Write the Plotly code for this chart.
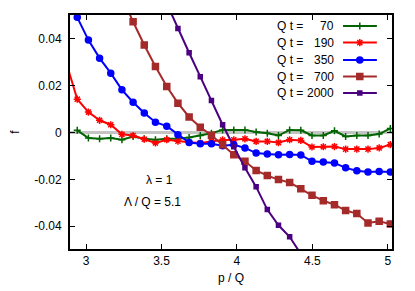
import plotly.graph_objects as go

# momentum grid p/Q
p = [2.868, 2.942, 3.016, 3.090, 3.164, 3.238, 3.312, 3.386, 3.460, 3.535,
     3.609, 3.683, 3.757, 3.831, 3.905, 3.979, 4.053, 4.127, 4.201, 4.275,
     4.349, 4.423, 4.497, 4.572, 4.646, 4.720, 4.794, 4.868, 4.942, 5.016]

f_70 = [None, 0.0009, -0.0024, -0.0027, -0.0024, -0.0031, -0.0017, -0.0027, -0.0031, -0.0027,
        -0.0027, -0.0021, -0.0013, -0.0003, 0.0011, 0.0011, 0.0011, 0.0002, -0.0003, -0.0013,
        0.0011, 0.0009, -0.0013, -0.0013, 0.0007, -0.0017, -0.0013, -0.0013, -0.0007, 0.0017]
f_190 = [0.030, 0.0142, 0.0087, 0.0052, 0.0033, -0.0008, -0.0013, -0.0029, -0.0045, -0.0031,
         -0.0037, -0.0042, -0.0045, -0.0038, -0.0032, -0.0031, -0.0027, -0.0038, -0.0038, -0.0043,
         -0.0031, -0.0034, -0.0062, -0.0061, -0.0060, -0.0071, -0.0071, -0.0071, -0.0066, -0.0052]
f_350 = [None, 0.0491, 0.0394, 0.0317, 0.0253, 0.0182, 0.0129, 0.0083, 0.0044, 0.0027,
         -0.0010, -0.0043, -0.0048, -0.0048, -0.0057, -0.0052, -0.0066, -0.0088, -0.0092, -0.0095,
         -0.0094, -0.0096, -0.0123, -0.0126, -0.0130, -0.0151, -0.0163, -0.0169, -0.0166, -0.0169]
f_700 = [None, None, None, None, None, 0.058, 0.0472, 0.0373, 0.0281, 0.0196,
         0.0125, 0.0066, 0.0022, -0.0012, -0.0052, -0.0095, -0.0123, -0.0162, -0.0184, -0.0201,
         -0.0213, -0.0240, -0.0268, -0.0291, -0.0308, -0.0333, -0.0346, -0.0386, -0.0379, -0.0390]
f_2000 = [None, None, None, None, None, None, None, None, None, 0.055,
          0.0443, 0.0340, 0.0238, 0.0136, 0.0033, -0.0061, -0.0151, -0.0232, -0.0329, -0.0396,
          -0.0445, -0.0518, None, None, None, None, None, None, None, None]

labels = ["70", "190", "350", "700", "2000"]
series = [f_70, f_190, f_350, f_700, f_2000]
colors = ["#006400", "#ff0000", "#0000ff", "#a52a2a", "#4b0082"]
symbols = ["cross-thin-open", "asterisk-open", "circle", "square", "square"]
sizes = [5, 6, 6, 6, 4]

x_ticks = [3, 3.5, 4, 4.5, 5]
y_ticks = [-0.04, -0.02, 0, 0.02, 0.04]
y_tick_text = ["-0.04", "-0.02", "0", "0.02", "0.04"]

FONT = "Liberation Sans, Arial, sans-serif"

fig = go.Figure()

for lab, ys, c, sym, sz in zip(labels, series, colors, symbols, sizes):
    fig.add_trace(go.Scatter(
        x=p, y=ys, mode="lines+markers", name="Q t = " + lab,
        line=dict(color=c, width=2),
        marker=dict(symbol=sym, size=sz, color=c, line=dict(color=c, width=1.5)),
        connectgaps=False, showlegend=False,
    ))

# custom gnuplot-style legend (text left, sample right)
leg_rows = [0.953, 0.882, 0.808, 0.737, 0.667]
leg_x = [0.848, 0.9, 0.953]
for lab, c, sym, sz, yy in zip(labels, colors, symbols, sizes, leg_rows):
    fig.add_trace(go.Scatter(
        x=[leg_x[0], leg_x[2]], y=[yy, yy], mode="lines",
        line=dict(color=c, width=2), xaxis="x2", yaxis="y2",
        showlegend=False, hoverinfo="skip",
    ))
    fig.add_trace(go.Scatter(
        x=[leg_x[1]], y=[yy], mode="markers",
        marker=dict(symbol=sym, size=sz, color=c, line=dict(color=c, width=1.5)),
        xaxis="x2", yaxis="y2", showlegend=False, hoverinfo="skip",
    ))
    fig.add_annotation(xref="paper", yref="paper", x=0.637, y=yy, text="Q t =",
                       showarrow=False, xanchor="left", yanchor="middle",
                       font=dict(family=FONT, size=12, color="black"))
    fig.add_annotation(xref="paper", yref="paper", x=0.825, y=yy, text=lab,
                       showarrow=False, xanchor="right", yanchor="middle",
                       font=dict(family=FONT, size=12, color="black"))

fig.add_annotation(xref="paper", yref="paper", x=0.277, y=0.296, text="λ = 1",
                   showarrow=False, xanchor="center", yanchor="middle",
                   font=dict(family=FONT, size=12, color="black"))
fig.add_annotation(xref="paper", yref="paper", x=0.257, y=0.199, text="Λ / Q = 5.1",
                   showarrow=False, xanchor="center", yanchor="middle",
                   font=dict(family=FONT, size=12, color="black"))

# zero line
fig.add_shape(type="line", xref="paper", yref="y", x0=0, x1=1, y0=0, y1=0,
              line=dict(color="#c4c4c4", width=3), layer="below")

axis_common = dict(
    showline=True, linecolor="black", linewidth=2, mirror="ticks",
    ticks="inside", ticklen=5, tickwidth=1, tickcolor="black",
    showgrid=False, zeroline=False, automargin=False,
    tickfont=dict(family=FONT, size=12, color="black"),
)

# page body adds an 8px offset; size the figure so it ends at the window edge
fig.update_layout(
    width=407, height=283,
    margin=dict(l=62, r=23, t=7, b=42, autoexpand=False),
    paper_bgcolor="white", plot_bgcolor="white",
    showlegend=False,
    font=dict(family=FONT, size=12, color="black"),
    xaxis=dict(range=[2.894, 5.027], tickvals=x_ticks,
               ticktext=[str(v) for v in x_ticks],
               title=dict(text="p / Q", font=dict(family=FONT, size=12), standoff=6),
               **axis_common),
    yaxis=dict(range=[-0.0497, 0.0501], tickvals=y_ticks, ticktext=y_tick_text,
               ticklabelstandoff=4,
               title=dict(text="f", font=dict(family=FONT, size=12), standoff=26),
               **axis_common),
    xaxis2=dict(overlaying="x", range=[0, 1], visible=False, anchor="y2"),
    yaxis2=dict(overlaying="y", range=[0, 1], visible=False, anchor="x2"),
)

fig.write_html("out.html")
